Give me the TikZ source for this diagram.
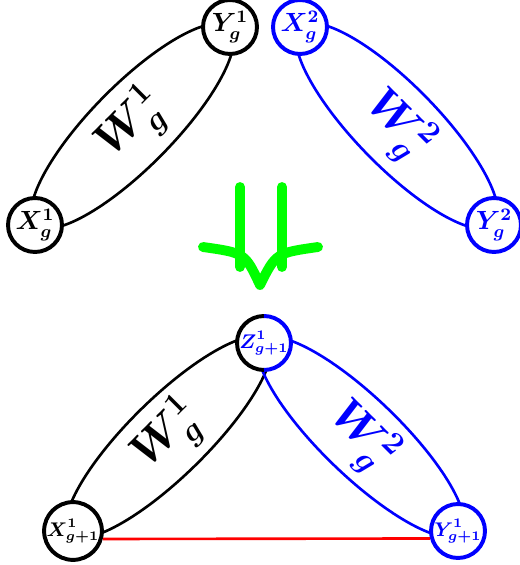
\documentclass[tikz,border=0pt]{standalone}
\usepackage{amsmath}
\usetikzlibrary{calc,backgrounds}

\tikzset{
  vertex/.style={circle, draw, line width=1.8pt, fill=white, minimum size=0.864cm, inner sep=0pt, font=\large\boldmath},
  small vertex/.style={vertex, font=\small\boldmath},
  hull/.style={line width=1.2pt},
  weight/.style={font=\huge\boldmath},
}

\begin{document}
\begin{tikzpicture}[x=0.016cm, y=0.016cm]
  \useasboundingbox (0,0) rectangle (520,565);

  % --- Top: the two groups before merging ---
  \node[vertex] (X1) at (35,340) {$X_g^1$};
  \node[vertex] (Y1) at (230,538) {$Y_g^1$};
  \node[vertex, draw=blue, text=blue] (X2) at (300,538) {$X_g^2$};
  \node[vertex, draw=blue, text=blue] (Y2) at (494,340) {$Y_g^2$};

  \begin{scope}[on background layer]
    \coordinate (c1) at ($(X1)!0.5!(Y1)$);
    \coordinate (c2) at ($(X2)!0.5!(Y2)$);
    \draw[hull, rotate around={45.4:(c1)}] (c1) ellipse [x radius=138, y radius=41];
    \draw[hull, blue, rotate around={-45.6:(c2)}] (c2) ellipse [x radius=138, y radius=41];
  \end{scope}
  \node[weight, rotate=45] at (c1) {$W_g^1$};
  \node[weight, blue, rotate=-45] at (c2) {$W_g^2$};

  % --- Merge arrow ---
  \draw[green, line width=4.5pt, line cap=round] (240,378) -- (240,298);
  \draw[green, line width=4.5pt, line cap=round] (282,378) -- (282,298);
  \draw[green, line width=4.5pt, line cap=round, line join=round]
    (203,318) .. controls (245,312) .. (260,280) .. controls (276,312) .. (318,318);

  % --- Bottom: merged group ---
  \node[small vertex] (Xb) at (73,34) {$X_{g+1}^1$};
  \node[small vertex, draw=none, text=blue] (Z) at (264,222) {$Z_{g+1}^1$};
  \node[small vertex, draw=blue, text=blue] (Yb) at (458,34) {$Y_{g+1}^1$};

  % half black, half blue border of Z
  \draw[line width=1.8pt] (Z.center) ++(0,0.432cm) arc[start angle=90, end angle=270, radius=0.432cm];
  \draw[line width=1.8pt, blue] (Z.center) ++(0,-0.432cm) arc[start angle=-90, end angle=90, radius=0.432cm];

  \begin{scope}[on background layer]
    \coordinate (c3) at ($(Xb)!0.5!(Z)$);
    \coordinate (c4) at ($(Z)!0.5!(Yb)$);
    \draw[hull, rotate around={44.5:(c3)}] (c3) ellipse [x radius=138, y radius=39];
    \draw[hull, blue, rotate around={-44:(c4)}] (c4) ellipse [x radius=138, y radius=39];
  \end{scope}
  \node[weight, rotate=45] at (c3) {$W_g^1$};
  \node[weight, blue, rotate=-45] at (c4) {$W_g^2$};

  \draw[red, line width=1.2pt] (Xb.-15) -- (Yb.195);
\end{tikzpicture}
\end{document}
